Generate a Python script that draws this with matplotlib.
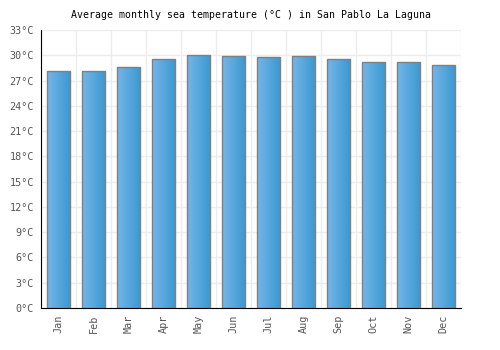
import matplotlib
matplotlib.use("Agg")
import matplotlib.pyplot as plt
import numpy as np
from matplotlib.colors import LinearSegmentedColormap

months = ['Jan', 'Feb', 'Mar', 'Apr', 'May', 'Jun', 'Jul', 'Aug', 'Sep', 'Oct', 'Nov', 'Dec']
temps = [28.1, 28.1, 28.6, 29.6, 30.1, 29.9, 29.8, 29.9, 29.6, 29.2, 29.2, 28.9]
yticks = [0, 3, 6, 9, 12, 15, 18, 21, 24, 27, 30, 33]

fig = plt.figure(figsize=(5, 3.5), dpi=100)
ax = fig.add_axes([0.082, 0.12, 0.84, 0.794])

x = np.arange(len(months))
bars = ax.bar(x, temps, width=0.66, edgecolor='#808080', linewidth=1, facecolor='none', zorder=3)

# horizontal gradient inside each bar
cmap = LinearSegmentedColormap.from_list('blu', ['#74b6ea', '#3a98cf'])
grad = np.linspace(0, 1, 64).reshape(1, -1)
for b in bars:
    im = ax.imshow(grad, cmap=cmap, aspect='auto', zorder=2,
                   extent=[b.get_x(), b.get_x() + b.get_width(), 0, b.get_height()])
    im.set_clip_path(b)

ax.set_xlim(-0.5, len(months) - 0.5)
ax.set_ylim(0, 33)
ax.set_yticks(yticks)
ax.set_yticklabels([f'{t}°C' for t in yticks])
ax.set_xticks(x)
ax.set_xticklabels(months, rotation=90)

ax.set_xticks(np.arange(-0.5, len(months) + 0.5, 1), minor=True)
ax.grid(True, which='minor', axis='x', color='#ececec', linewidth=1, zorder=0)
ax.grid(True, which='major', axis='y', color='#ececec', linewidth=1, zorder=0)
ax.tick_params(which='both', length=0)
ax.tick_params(axis='both', labelsize=7.3, labelcolor='#555555', pad=5)
for lab in ax.get_xticklabels() + ax.get_yticklabels():
    lab.set_family('DejaVu Sans Mono')

ax.spines['top'].set_visible(False)
ax.spines['right'].set_visible(False)
ax.spines['left'].set_color('black')
ax.spines['bottom'].set_color('black')

ax.set_title('Average monthly sea temperature (°C ) in San Pablo La Laguna',
             fontsize=7.1, family='DejaVu Sans Mono', pad=9)

fig.savefig('out.png', dpi=100)
